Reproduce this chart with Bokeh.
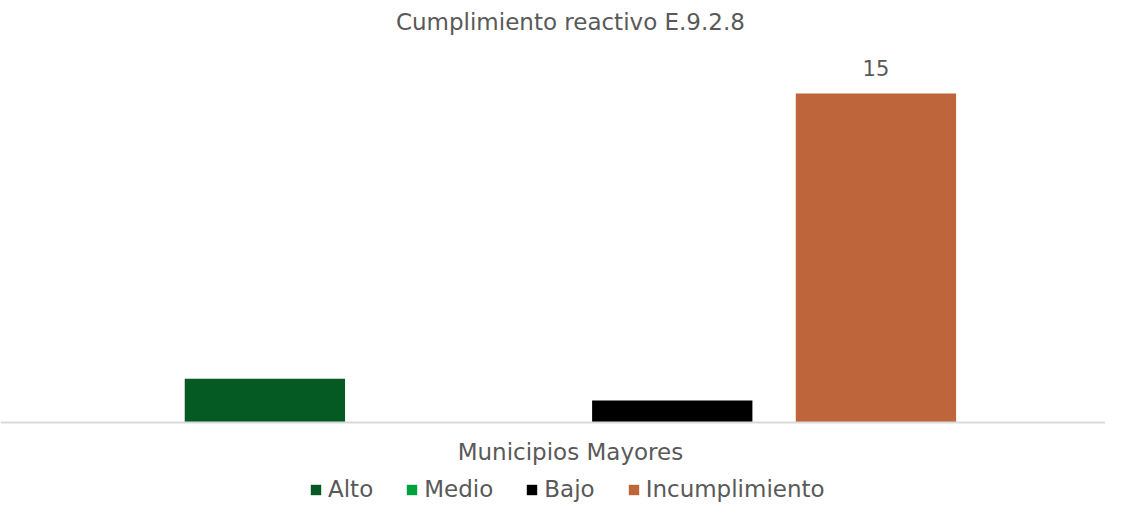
from bokeh.plotting import figure
from bokeh.models import ColumnDataSource, Range1d, Span, Label, Legend, LegendItem
from bokeh.core.properties import value
from bokeh.embed import file_html
from bokeh.resources import INLINE

categories = ["Alto", "Medio", "Bajo", "Incumplimiento"]
values = [2, 0, 1, 15]
colors = ["#045A22", "#00A03E", "#000000", "#BE653C"]
labeled = ["Incumplimiento"]
group_label = "Municipios Mayores"
title_text = "Cumplimiento reactivo E.9.2.8"

FONT = "DejaVu Sans"
GRAY = "#595959"

src = ColumnDataSource(dict(
    x=list(range(len(categories))),
    top=values,
    cat=categories,
    color=colors,
    label=[str(v) if c in labeled else "" for c, v in zip(categories, values)],
))

p = figure(width=1105, height=503, output_backend="svg", toolbar_location=None,
           x_range=Range1d(-1.298, 4.127), y_range=Range1d(-3.69, 19.24),
           x_axis_location=None, y_axis_location=None,
           min_border=0, min_border_left=0, min_border_right=0,
           min_border_top=0, min_border_bottom=0, outline_line_color=None)
p.grid.visible = False
p.background_fill_color = "white"
p.border_fill_color = "white"

r = p.vbar(x="x", top="top", width=0.787, fill_color="color", line_color=None,
           source=src)

p.text(x="x", y="top", text="label", source=src, text_align="center",
       text_baseline="middle", y_offset=-26, text_font=value(FONT),
       text_font_size="21px", text_color=GRAY)

p.add_layout(Span(location=0, dimension="width", line_color="#D9D9D9", line_width=2))

center_x = (len(categories) - 1) / 2
p.add_layout(Label(x=center_x, y=482, y_units="screen", text=title_text,
                   text_align="center", text_baseline="middle",
                   text_font=FONT, text_font_size="23px", text_color=GRAY))
p.add_layout(Label(x=center_x, y=52, y_units="screen", text=group_label,
                   text_align="center", text_baseline="middle",
                   text_font=FONT, text_font_size="23px", text_color=GRAY))

legend = Legend(location=(309, 1),
                orientation="horizontal", padding=0, margin=0, spacing=32,
                label_standoff=6, glyph_width=13, glyph_height=13,
                border_line_alpha=0, background_fill_alpha=0,
                label_text_font=FONT, label_text_font_size="23px",
                label_text_color=GRAY)
legend.items = [LegendItem(label=c, renderers=[r], index=i) for i, c in enumerate(categories)]
p.add_layout(legend)

open("out.html", "w").write(file_html(p, INLINE))
